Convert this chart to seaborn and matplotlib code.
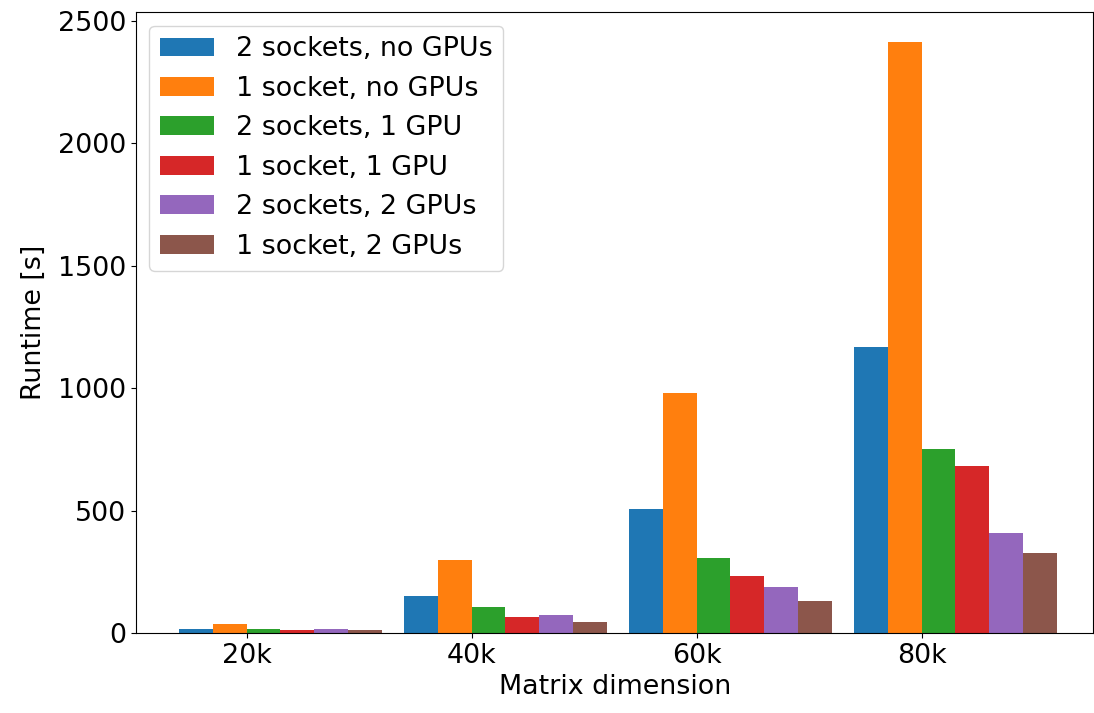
import matplotlib
matplotlib.use("Agg")
import matplotlib.pyplot as plt
import seaborn as sns
import pandas as pd
import numpy as np

# Runtime measurements per matrix size and hardware configuration
dimensions = ["20k", "40k", "60k", "80k"]
configs = [
    "2 sockets, no GPUs",
    "1 socket, no GPUs",
    "2 sockets, 1 GPU",
    "1 socket, 1 GPU",
    "2 sockets, 2 GPUs",
    "1 socket, 2 GPUs",
]
two_sockets_no_gpu = [18, 150, 505, 1168]
one_socket_no_gpu = [38, 297, 979, 2414]
two_sockets_1gpu = [17, 105, 305, 752]
one_socket_1gpu = [13, 64, 232, 682]
two_sockets_2gpu = [17, 72, 187, 408]
one_socket_2gpu = [13, 44, 130, 327]

series = [two_sockets_no_gpu, one_socket_no_gpu, two_sockets_1gpu,
          one_socket_1gpu, two_sockets_2gpu, one_socket_2gpu]

rows = []
for cfg, vals in zip(configs, series):
    for dim, v in zip(dimensions, vals):
        rows.append({"dim": dim, "config": cfg, "runtime": v})
df = pd.DataFrame(rows)

plt.rcParams["font.family"] = ["DejaVu Sans"]
plt.rcParams["font.size"] = 19.4

fig, ax = plt.subplots(figsize=(10.94, 7.13), dpi=100)
sns.barplot(data=df, x="dim", y="runtime", hue="config", order=dimensions,
            hue_order=configs, palette="tab10", saturation=1, width=0.9,
            ax=ax, errorbar=None)

# ticks sit at the boundary between the 2nd and 3rd bar of each group
bar_w = 0.9 / len(configs)
tick_pos = np.arange(len(dimensions)) - bar_w
ax.set_xticks(tick_pos)
ax.set_xticklabels(dimensions)
ax.set_xlim(tick_pos[0] - 0.492, tick_pos[-1] + 0.764)
ax.set_ylim(0, max(one_socket_no_gpu) * 1.05)
ax.set_yticks([0, 500, 1000, 1500, 2000, 2500])

ax.set_xlabel("Matrix dimension")
ax.set_ylabel("Runtime [s]", labelpad=8)

handles, labels = ax.get_legend_handles_labels()
ax.legend(handles, labels, loc="upper left", title=None)

for s in ax.spines.values():
    s.set_visible(True)
    s.set_color("black")

fig.subplots_adjust(left=0.1243, right=0.9995, top=0.983, bottom=0.1122)
fig.savefig("out.png", dpi=100)
